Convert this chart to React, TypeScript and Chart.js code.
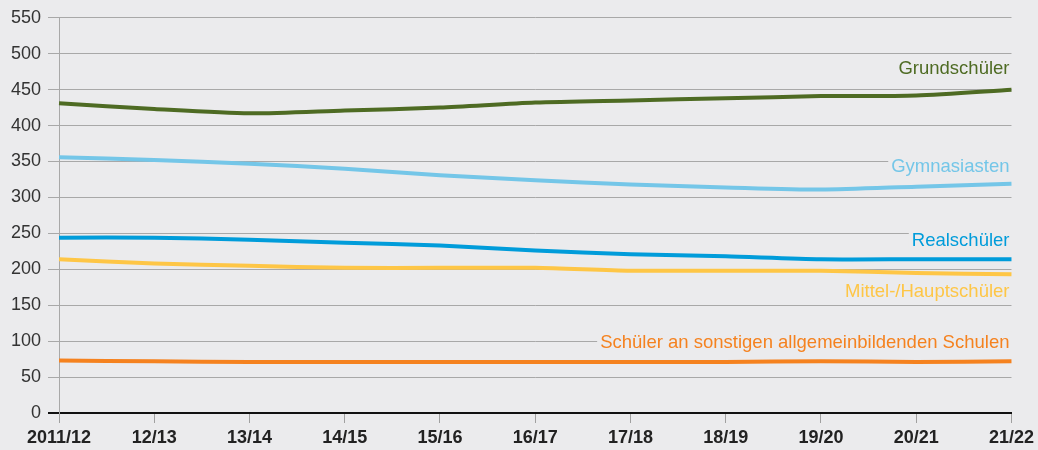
import React, { useEffect, useRef } from "react";
import { Chart, registerables } from "chart.js";

Chart.register(...registerables);

const categories = ["2011/12", "12/13", "13/14", "14/15", "15/16", "16/17", "17/18", "18/19", "19/20", "20/21", "21/22"];
const grundschueler = [431, 423, 417, 421, 425, 432, 435, 438, 441, 442, 450];
const gymnasiasten = [356, 352, 347, 340, 331, 324, 318, 314, 311, 315, 319];
const realschueler = [244, 244, 241, 237, 233, 226, 221, 218, 214, 214, 214];
const mittelHaupt = [214, 208, 205, 202, 202, 202, 198, 198, 198, 195, 193];
const sonstige = [73, 72, 71, 71, 71, 71, 71, 71, 72, 71, 72];
const yTicks = [0, 50, 100, 150, 200, 250, 300, 350, 400, 450, 500, 550];

const seriesNames = ["Grundschüler", "Gymnasiasten", "Realschüler", "Mittel-/Hauptschüler", "Schüler an sonstigen allgemeinbildenden Schulen"];
const seriesColors = ["#4e6b23", "#74c6e8", "#009cda", "#fec646", "#f5821f"];
const labelAnchors = [479, 343, 240, 169, 98];

const BG = "#ebebed";
const FONT = "'Liberation Sans', Arial, sans-serif";

const bgPlugin = {
  id: "bg",
  beforeDraw(chart: any) {
    const ctx = chart.ctx;
    ctx.save();
    ctx.fillStyle = BG;
    ctx.fillRect(0, 0, chart.width, chart.height);
    ctx.restore();
  },
};

const labelPlugin = {
  id: "seriesLabels",
  afterDatasetsDraw(chart: any) {
    const ctx = chart.ctx;
    const y = chart.scales.y;
    const edge = chart.chartArea.right;
    const right = edge - 2;
    ctx.save();
    ctx.font = `18.5px ${FONT}`;
    ctx.textAlign = "right";
    ctx.textBaseline = "middle";
    seriesNames.forEach((name, i) => {
      const py = y.getPixelForValue(labelAnchors[i]);
      const w = ctx.measureText(name).width;
      ctx.fillStyle = BG;
      ctx.fillRect(right - w - 3, py - 11, edge + 1 - (right - w - 3), 22);
      ctx.fillStyle = seriesColors[i];
      ctx.fillText(name, right, py);
    });
    ctx.restore();
  },
};

export default function App() {
  const ref = useRef<HTMLCanvasElement | null>(null);
  useEffect(() => {
    if (!ref.current) return;
    const data = [grundschueler, gymnasiasten, realschueler, mittelHaupt, sonstige];
    const chart = new Chart(ref.current, {
      type: "line",
      data: {
        labels: categories,
        datasets: data.map((d, i) => ({
          label: seriesNames[i],
          data: d,
          borderColor: seriesColors[i],
          backgroundColor: seriesColors[i],
          borderWidth: 4,
          pointRadius: 0,
          tension: 0.25,
          fill: false,
        })),
      },
      options: {
        animation: false,
        responsive: true,
        maintainAspectRatio: false,
        layout: { padding: { top: 11, right: 26, left: 0, bottom: 0 } },
        plugins: { legend: { display: false }, tooltip: { enabled: false } },
        scales: {
          x: {
            offset: false,
            grid: { drawOnChartArea: false, drawTicks: true, tickLength: 10, color: "#a0a0a0" },
            border: { color: "#111", width: 2 },
            ticks: { color: "#222", font: { family: FONT, size: 18, weight: "bold" }, padding: 4, maxRotation: 0, autoSkip: false },
            afterFit(scale: any) { scale.height = 37; },
          },
          y: {
            min: 0,
            max: 550,
            afterBuildTicks(scale: any) { scale.ticks = yTicks.map((v) => ({ value: v })); },
            grid: {
              tickLength: 11,
              color: (c: any) => (c.tick && c.tick.value === 0 ? "#111" : "#a8a8a8"),
              lineWidth: (c: any) => (c.tick && c.tick.value === 0 ? 2 : 1),
            },
            border: { color: "#a8a8a8", width: 1 },
            ticks: { color: "#333", font: { family: FONT, size: 18 }, padding: 7 },
            afterFit(scale: any) { scale.width = 59; },
          },
        },
      },
      plugins: [bgPlugin, labelPlugin],
    });
    return () => chart.destroy();
  }, []);
  return (
    <div style={{ position: "fixed", left: 0, top: 0, width: 1038, height: 450 }}>
      <canvas ref={ref} />
    </div>
  );
}
